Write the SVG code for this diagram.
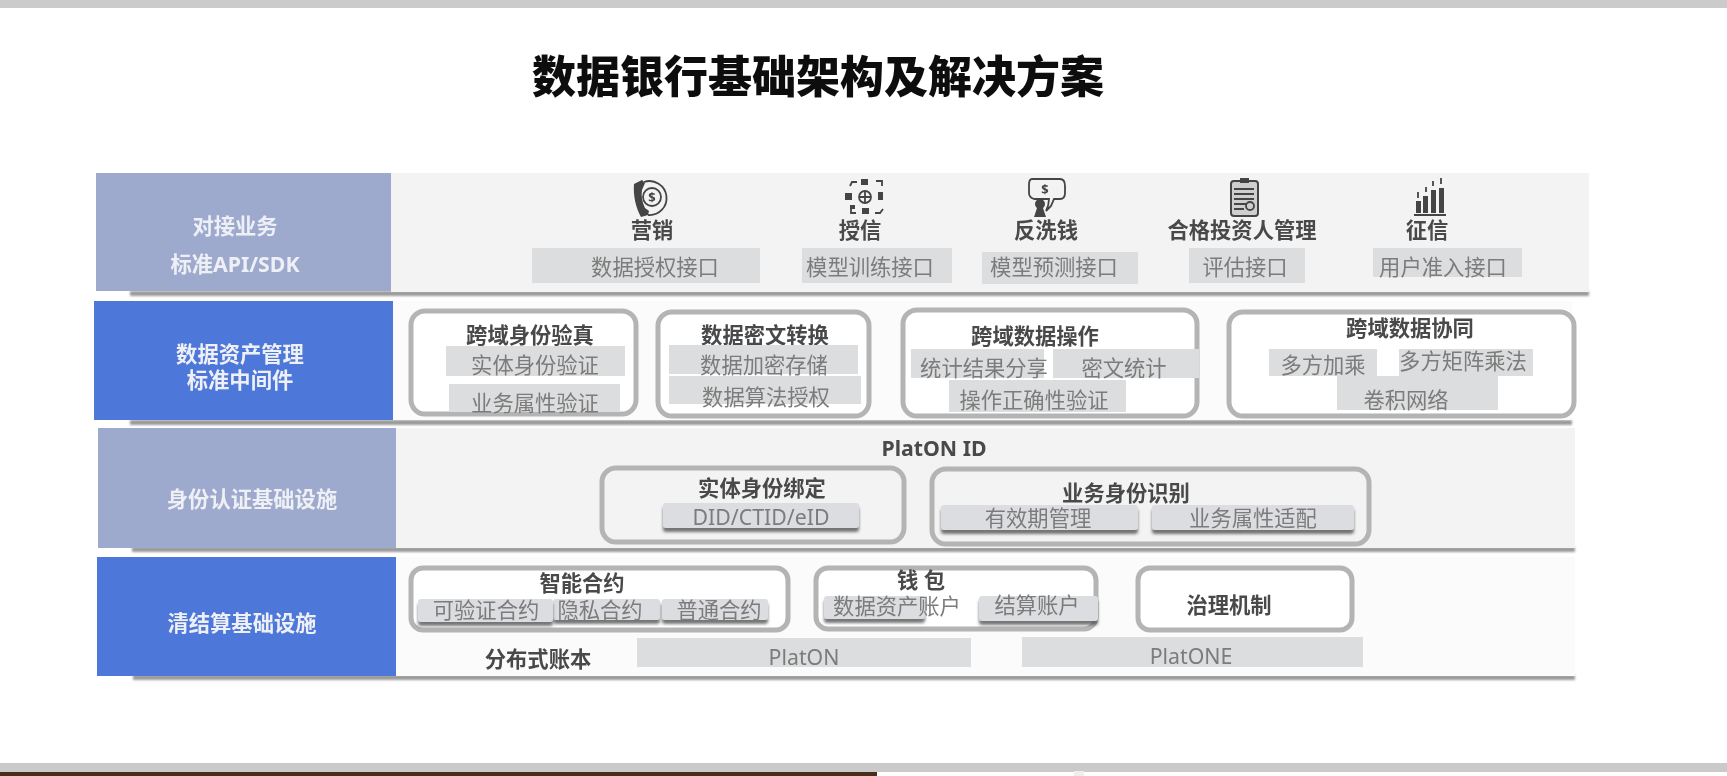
<svg xmlns="http://www.w3.org/2000/svg" width="1727" height="776" viewBox="0 0 1727 776">
<style>
text{font-family:"Noto Sans","Noto Sans CJK SC","Liberation Sans",sans-serif;text-anchor:middle;dominant-baseline:central;transform:translateY(-2px)}
.h{font-size:21.3px;font-weight:700;fill:#4a4a4a}
.s{font-size:21.3px;font-weight:400;fill:#7b7b7b}
.l{font-size:21.3px;font-weight:700;fill:#eef0f6}
.t{font-size:44px;font-weight:900;fill:#111}
.lb{fill:#9eaacd}.db{fill:#4e77d8}
.r1{fill:#f3f3f3}.r2{fill:#fbfbfb}
.sb{fill:#9a9a9a;filter:url(#b)}
.g{fill:#dcddde}
.p{fill:#dcdde0;filter:url(#ps)}
.box{fill:#fff;fill-opacity:.95;stroke:#b4b4b4;stroke-width:5}
.boxt{fill:none;stroke:#b4b4b4;stroke-width:5}
.ic{fill:none;stroke:#444;stroke-width:1.8}
.if{fill:#444}
.d{font-size:13px;font-weight:700;fill:#444}
</style>
<defs>
<filter id="b" x="-5%" y="-100%" width="110%" height="300%"><feGaussianBlur stdDeviation="1"/></filter>
<filter id="ps" x="-5%" y="-20%" width="110%" height="160%"><feDropShadow dx="0" dy="4" stdDeviation="1.5" flood-color="#555" flood-opacity=".8"/></filter>
<filter id="soft" x="0" y="0" width="100%" height="100%"><feGaussianBlur stdDeviation="0.55"/></filter>
</defs>
<rect width="1727" height="776" fill="#fff"/>
<g filter="url(#soft)">
<g id="window-edges">
<rect x="0" y="0" width="1727" height="8" fill="#cbcbcb"/>
<rect x="0" y="763" width="1727" height="9" fill="#cacaca"/>
<rect x="0" y="772" width="877" height="4" fill="#4a2d1b"/>
<rect x="1074" y="771" width="10" height="5" fill="#eeeeee"/>
</g>
<text id="title" class="t" x="818" y="78">数据银行基础架构及解决方案</text>

<g id="row-business">
<rect class="sb" x="130" y="291" width="1459" height="5"/>
<rect class="r1" x="391" y="173" width="1198" height="119"/>
<rect class="lb" x="96" y="173" width="295" height="118"/>
<text class="l" x="235" y="227">对接业务</text>
<text class="l" x="235" y="265">标准API/SDK</text>
<g id="biz-marketing">
<path class="if" d="M634 184l8-4 3 3-3 7c-1 6 0 12 3 18l4 3-1 4-7 2c-5-9-8-21-7-33z"/>
<path class="ic" d="M644 182a17 17 0 1 1 4 33"/>
<circle class="ic" cx="652" cy="197" r="9"/>
<text class="d" x="652" y="199">$</text>
<text class="h" x="652" y="231">营销</text>
</g>
<g id="biz-credit">
<circle class="ic" cx="865" cy="197" r="6"/>
<path class="ic" d="M859 197h12M865 191v12"/>
<path class="ic" d="M850 186l2-4h5M876 181h6v5M851 209v4h5M883 209l-3 4h-5"/>
<path class="if" d="M861 179h7v6h-7zM845 193h7v7h-7zM878 192h5v8h-5zM850 205h5v4h-5zM862 208h7v6h-7z"/>
<text class="h" x="860" y="231">授信</text>
</g>
<g id="biz-aml">
<path class="ic" d="M1032 179h28c4 0 5 3 5 7v7c0 4-2 6-5 6h-6l-3 7-5 5c2-4 3-7 3-12h-15c-3-1-5-3-5-6v-8c0-4 1-6 3-6z"/>
<text class="d" x="1045" y="191">$</text>
<circle class="if" cx="1040" cy="204" r="5"/>
<path class="if" d="M1034 217l3-9h6l3 9z"/>
<text class="h" x="1046" y="231">反洗钱</text>
</g>
<g id="biz-investor">
<rect x="1231" y="181" width="27" height="35" rx="3" fill="#cfcfcf" stroke="#444" stroke-width="2"/>
<rect class="if" x="1240" y="178" width="9" height="5"/>
<path class="ic" d="M1234 189h20M1234 194h20M1234 199h20M1234 204h12M1234 209h10"/>
<circle class="ic" cx="1250" cy="206" r="4"/>
<text class="h" x="1242" y="231">合格投资人管理</text>
</g>
<g id="biz-reference">
<path class="if" d="M1416 201h5v12h-5zM1423 196h5v17h-5zM1431 190h5v23h-5zM1439 188h5v25h-5z"/>
<path class="ic" d="M1414 215h32M1418 198v-6M1426 192v-5M1433 186v-5M1441 184v-6" stroke-width="1.2"/>
<text class="h" x="1427" y="231">征信</text>
</g>
<rect class="g" x="532" y="248" width="228" height="35"/>
<text class="s" x="655" y="268">数据授权接口</text>
<rect class="g" x="802" y="248" width="150" height="35"/>
<text class="s" x="870" y="268">模型训练接口</text>
<rect class="g" x="982" y="252" width="156" height="32"/>
<text class="s" x="1054" y="268">模型预测接口</text>
<rect class="g" x="1189" y="248" width="116" height="35"/>
<text class="s" x="1245" y="268">评估接口</text>
<rect class="g" x="1373" y="248" width="149" height="29"/>
<text class="s" x="1443" y="268">用户准入接口</text>
</g>

<g id="row-asset">
<rect class="sb" x="130" y="420" width="1442" height="5"/>
<rect class="r2" x="393" y="301" width="1179" height="119"/>
<rect class="db" x="94" y="301" width="299" height="119"/>
<text class="l" x="240" y="355">数据资产管理</text>
<text class="l" x="240" y="381">标准中间件</text>
<g id="cross-identity">
<rect class="box" x="411" y="311" width="225" height="103" rx="14"/>
<text class="h" x="530" y="336">跨域身份验真</text>
<rect class="g" x="446" y="346" width="179" height="30"/>
<text class="s" x="535" y="366">实体身份验证</text>
<rect class="g" x="449" y="384" width="171" height="28"/>
<text class="s" x="535" y="404">业务属性验证</text>
</g>
<g id="cipher-convert">
<rect class="box" x="658" y="312" width="211" height="104" rx="14"/>
<text class="h" x="765" y="336">数据密文转换</text>
<rect class="g" x="669" y="345" width="189" height="29"/>
<text class="s" x="764" y="366">数据加密存储</text>
<rect class="g" x="669" y="376" width="192" height="28"/>
<text class="s" x="766" y="398">数据算法授权</text>
</g>
<g id="cross-data-op">
<rect class="box" x="903" y="310" width="294" height="106" rx="14"/>
<text class="h" x="1035" y="337">跨域数据操作</text>
<rect class="g" x="911" y="349" width="133" height="29"/>
<text class="s" x="984" y="369">统计结果分享</text>
<rect class="g" x="1053" y="349" width="146" height="29"/>
<text class="s" x="1124" y="369">密文统计</text>
<rect class="g" x="949" y="380" width="177" height="32"/>
<text class="s" x="1034" y="401">操作正确性验证</text>
</g>
<g id="cross-data-collab">
<rect class="box" x="1229" y="312" width="345" height="104" rx="14"/>
<text class="h" x="1410" y="329">跨域数据协同</text>
<rect class="g" x="1269" y="349" width="108" height="27"/>
<text class="s" x="1323" y="366">多方加乘</text>
<rect class="g" x="1399" y="349" width="134" height="27"/>
<text class="s" x="1463" y="362">多方矩阵乘法</text>
<rect class="g" x="1337" y="376" width="161" height="34"/>
<text class="s" x="1406" y="401">卷积网络</text>
</g>
</g>

<g id="row-identity">
<rect class="sb" x="132" y="547" width="1443" height="5"/>
<rect class="r1" x="396" y="428" width="1179" height="120"/>
<rect class="lb" x="98" y="428" width="298" height="120"/>
<text class="l" x="252" y="500">身份认证基础设施</text>
<text class="h" x="934" y="449">PlatON ID</text>
<g id="entity-binding">
<rect class="boxt" x="602" y="468" width="302" height="74" rx="14"/>
<text class="h" x="762" y="489">实体身份绑定</text>
<rect class="p" x="663" y="503" width="196" height="25" rx="3"/>
<text class="s" x="761" y="518">DID/CTID/eID</text>
</g>
<g id="business-identity">
<rect class="boxt" x="932" y="469" width="437" height="75" rx="14"/>
<text class="h" x="1126" y="494">业务身份识别</text>
<rect class="p" x="941" y="505" width="197" height="25" rx="3"/>
<text class="s" x="1038" y="519">有效期管理</text>
<rect class="p" x="1152" y="505" width="202" height="25" rx="3"/>
<text class="s" x="1253" y="519">业务属性适配</text>
</g>
</g>

<g id="row-settlement">
<rect class="sb" x="133" y="675" width="1442" height="5"/>
<rect class="r2" x="396" y="557" width="1179" height="119"/>
<rect class="db" x="97" y="557" width="299" height="119"/>
<text class="l" x="242" y="624">清结算基础设施</text>
<g id="smart-contract">
<rect class="box" x="411" y="568" width="377" height="62" rx="12"/>
<text class="h" x="582" y="584">智能合约</text>
<rect class="p" x="553" y="599" width="107" height="21" rx="3"/>
<rect class="p" x="662" y="599" width="106" height="21" rx="3"/>
<rect class="p" x="418" y="599" width="135" height="23" rx="3"/>
<text class="s" x="486" y="611">可验证合约</text>
<text class="s" x="600" y="611">隐私合约</text>
<text class="s" x="719" y="611">普通合约</text>
</g>
<g id="wallet">
<rect class="box" x="816" y="568" width="280" height="61" rx="12"/>
<text class="h" x="921" y="581">钱 包</text>
<rect class="p" x="824" y="596" width="101" height="23" rx="3"/>
<text class="s" x="897" y="607">数据资产账户</text>
<rect class="p" x="979" y="596" width="119" height="25" rx="3"/>
<text class="s" x="1037" y="606">结算账户</text>
</g>
<g id="governance">
<rect class="box" x="1138" y="568" width="214" height="62" rx="12"/>
<text class="h" x="1229" y="606">治理机制</text>
</g>
<g id="ledger">
<text class="h" x="538" y="660">分布式账本</text>
<rect class="g" x="637" y="638" width="334" height="29"/>
<text class="s" x="804" y="658">PlatON</text>
<rect class="g" x="1022" y="637" width="341" height="30"/>
<text class="s" x="1191" y="657">PlatONE</text>
</g>
</g>
</g>
</svg>
